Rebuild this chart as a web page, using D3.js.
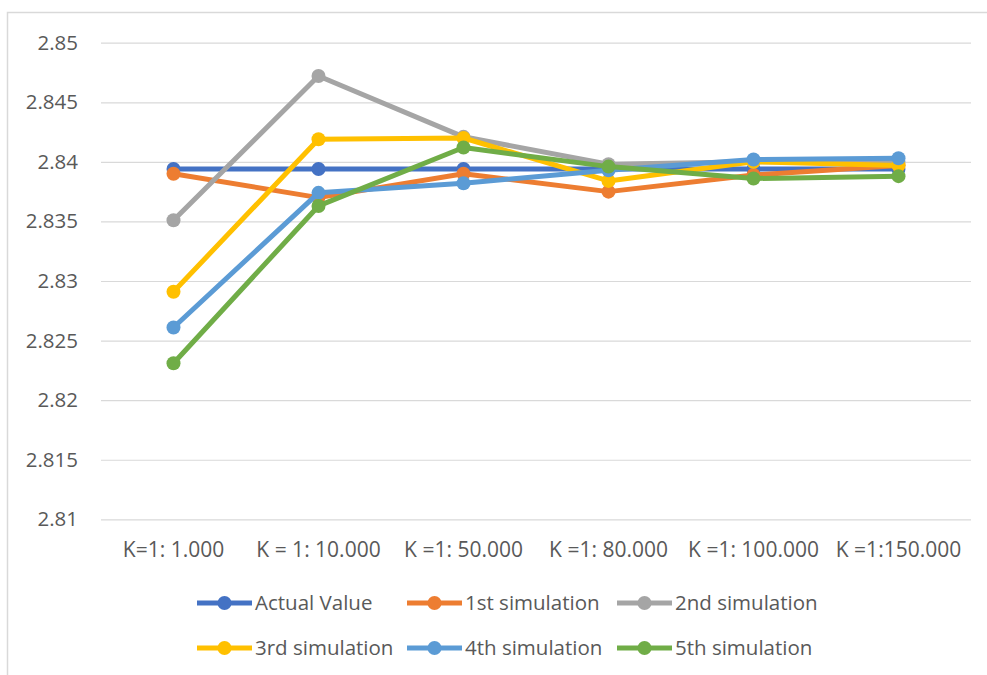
<!DOCTYPE html>
<html><head><meta charset="utf-8">
<script src="https://cdn.jsdelivr.net/npm/d3@7"></script>
<style>body{margin:0;background:#fff}svg{display:block}text{font-family:"Open Sans",sans-serif;fill:#595959}</style>
</head><body>
<script>
const categories = ["K=1: 1.000","K = 1: 10.000","K =1: 50.000","K =1: 80.000","K =1: 100.000","K =1:150.000"];
const seriesNames = ["Actual Value","1st simulation","2nd simulation","3rd simulation","4th simulation","5th simulation"];
const seriesColors = ["#4472c4","#ed7d31","#a5a5a5","#ffc000","#5b9bd5","#70ad47"];
const actualValue = [2.8394,2.8394,2.8394,2.8394,2.8394,2.8394];
const sim1 = [2.8390,2.8370,2.8390,2.8375,2.8389,2.8397];
const sim2 = [2.8351,2.8472,2.8421,2.8398,2.8400,2.8400];
const sim3 = [2.8291,2.8419,2.8420,2.8384,2.8400,2.8397];
const sim4 = [2.8261,2.8374,2.8382,2.8393,2.8402,2.8403];
const sim5 = [2.8231,2.8363,2.8412,2.8396,2.8386,2.8388];
const yTicks = [2.81,2.815,2.82,2.825,2.83,2.835,2.84,2.845,2.85];
const seriesValues = [actualValue,sim1,sim2,sim3,sim4,sim5];

(function(){
const W=987,H=675;
const svg=d3.select("body").append("svg").attr("width",W).attr("height",H);
svg.append("rect").attr("x",7.5).attr("y",12.5).attr("width",W+10).attr("height",H+10)
  .attr("fill","#fff").attr("stroke","#d9d9d9").attr("stroke-width",1.5);

const pl=101,pr=971,pt=42.7,pb=519.3;
const x=d3.scaleBand().domain(categories).range([pl,pr]);
const y=d3.scaleLinear().domain([2.81,2.85]).range([pb,pt]);

const yAxis=d3.axisLeft(y).tickValues(yTicks).tickSize(-(pr-pl)).tickPadding(23)
  .tickFormat(d=>String(+d.toFixed(3)));
const gy=svg.append("g").attr("transform",`translate(${pl},0)`).call(yAxis);
gy.select(".domain").remove();
gy.selectAll(".tick line").attr("stroke","#d9d9d9").attr("stroke-width",1.2);
gy.selectAll(".tick text").attr("font-size",20.5).attr("fill","#595959").attr("font-family","Open Sans");

const xAxis=d3.axisBottom(x).tickSize(0).tickPadding(23);
const gx=svg.append("g").attr("transform",`translate(0,${pb})`).call(xAxis);
gx.select(".domain").remove();
gx.selectAll(".tick text").attr("font-size",21).attr("fill","#595959").attr("font-family","Open Sans");

const cx=c=>x(c)+x.bandwidth()/2;
const line=d3.line().x((d,i)=>cx(categories[i])).y(d=>y(d));
seriesValues.forEach((vals,si)=>{
  const g=svg.append("g");
  g.append("path").datum(vals).attr("d",line).attr("fill","none")
    .attr("stroke",seriesColors[si]).attr("stroke-width",5).attr("stroke-linejoin","round");
  g.selectAll("circle").data(vals).join("circle")
    .attr("cx",(d,i)=>cx(categories[i])).attr("cy",d=>y(d)).attr("r",7)
    .attr("fill",seriesColors[si]);
});

const legX=[197,407,617], legY=[603,648];
seriesNames.forEach((n,i)=>{
  const lx=legX[i%3], ly=legY[Math.floor(i/3)];
  const g=svg.append("g");
  g.append("line").attr("x1",lx).attr("x2",lx+55).attr("y1",ly).attr("y2",ly)
    .attr("stroke",seriesColors[i]).attr("stroke-width",5);
  g.append("circle").attr("cx",lx+27.5).attr("cy",ly).attr("r",7).attr("fill",seriesColors[i]);
  g.append("text").attr("x",lx+58).attr("y",ly).attr("dy","0.35em").attr("font-size",20.5).text(n);
});
})();
</script>
</body></html>
